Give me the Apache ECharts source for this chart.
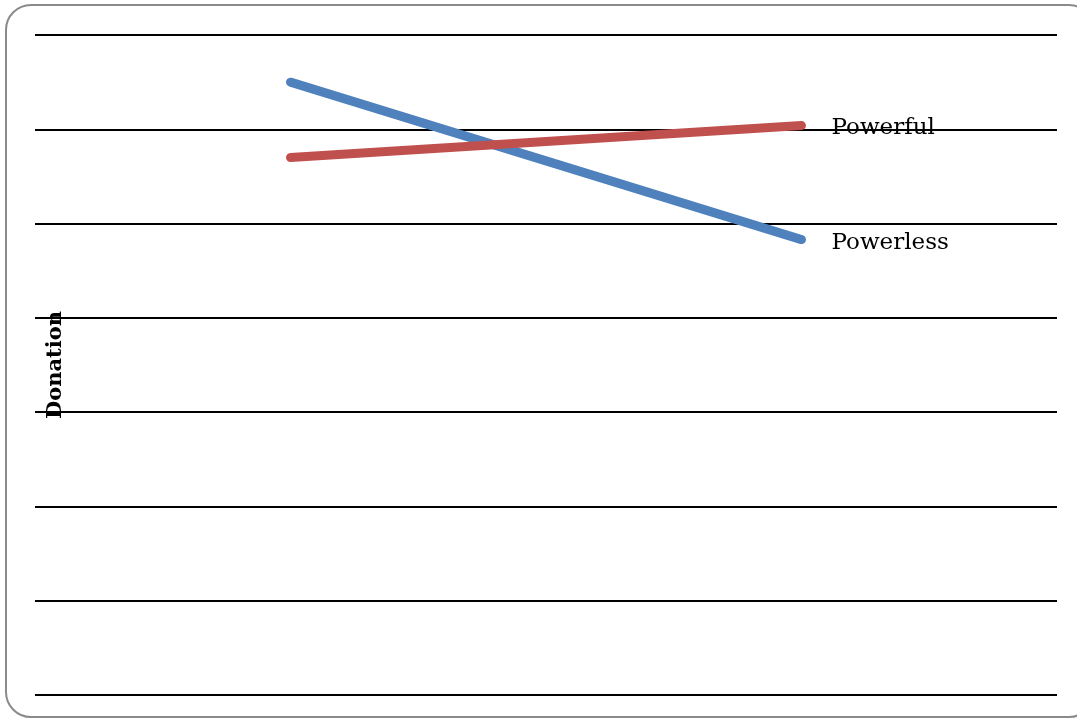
<!DOCTYPE html>
<html>
<head>
<meta charset="utf-8">
<style>
  html, body { margin: 0; padding: 0; background: #ffffff; }
  #frame {
    position: absolute; left: 5px; top: 4px; width: 1090px; height: 714px;
    border: 2px solid #8a8a8a; border-radius: 26px; box-sizing: border-box;
  }
  #chart { position: absolute; left: 0; top: 0; width: 1077px; height: 721px; }
</style>
<script src="https://cdn.jsdelivr.net/npm/echarts@6/dist/echarts.min.js"></script>
</head>
<body>
<div id="frame"></div>
<div id="chart"></div>
<script>
// Two measurement points on the x axis (labels are not shown)
const conditions = ['Time 1', 'Time 2'];

// Mean donation per group
const powerless = [6.50, 4.83];
const powerful = [5.70, 6.04];

// Value axis range
const yMin = 0;
const yMax = 7;
const yStep = 1;

const serif = '"DejaVu Serif", "Liberation Serif", serif';

const chart = echarts.init(document.getElementById('chart'), null, { renderer: 'canvas' });

function lineSeries(name, data, color) {
  return {
    name: name,
    type: 'line',
    data: data,
    showSymbol: false,
    symbol: 'none',
    lineStyle: { color: color, width: 9, cap: 'round' },
    itemStyle: { color: color },
    endLabel: {
      show: true,
      formatter: '{a}',
      distance: 30,
      offset: [0, 3],
      color: '#000',
      fontFamily: serif,
      fontSize: 23
    },
    z: 1
  };
}

chart.setOption({
  animation: false,
  backgroundColor: 'transparent',
  grid: { left: 35, right: 20, top: 35, bottom: 26, containLabel: false },
  xAxis: {
    type: 'category',
    data: conditions,
    boundaryGap: true,
    axisLine: { show: false },
    axisTick: { show: false },
    axisLabel: { show: false },
    splitLine: { show: false }
  },
  yAxis: {
    type: 'value',
    min: yMin,
    max: yMax,
    interval: yStep,
    name: 'Donation',
    nameLocation: 'middle',
    nameGap: -31,
    nameTextStyle: {
      color: '#000',
      fontFamily: serif,
      fontWeight: 'bold',
      fontSize: 21
    },
    axisLine: { show: false },
    axisTick: { show: false },
    axisLabel: { show: false },
    splitLine: { show: true, lineStyle: { color: '#000', width: 2 } }
  },
  series: [
    lineSeries('Powerless', powerless, '#4f81bd'),
    lineSeries('Powerful', powerful, '#c0504d')
  ]
});
</script>
</body>
</html>
